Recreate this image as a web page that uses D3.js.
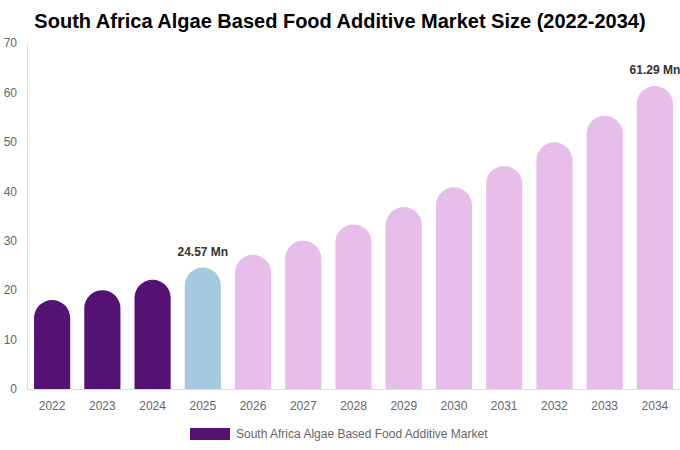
<!DOCTYPE html>
<html>
<head>
<meta charset="utf-8">
<script src="https://cdn.jsdelivr.net/npm/d3@7"></script>
<style>
  body { margin: 0; background: #fff; }
  svg { font-family: "Liberation Sans", Arial, sans-serif; }
</style>
</head>
<body>
<div id="chart"></div>
<script>
// --- Data ---
const years = ["2022", "2023", "2024", "2025", "2026", "2027", "2028",
               "2029", "2030", "2031", "2032", "2033", "2034"];
const marketSize = [18.0, 20.0, 22.1, 24.57, 27.15, 30.0, 33.3,
                    36.8, 40.8, 45.1, 49.9, 55.3, 61.29];
const yTicks = [0, 10, 20, 30, 40, 50, 60, 70];
const labelled = { "2025": "24.57 Mn", "2034": "61.29 Mn" };

const W = 680, H = 450;
const margin = { top: 43, right: 0, bottom: 61, left: 27 };
const innerW = W - margin.left - margin.right;
const innerH = H - margin.top - margin.bottom;

const svg = d3.select("#chart").append("svg")
  .attr("width", W)
  .attr("height", H);

// --- Title ---
svg.append("text")
  .attr("x", W / 2)
  .attr("y", 28)
  .attr("text-anchor", "middle")
  .style("font-size", "20px")
  .style("font-weight", "bold")
  .style("fill", "#000")
  .text("South Africa Algae Based Food Additive Market Size (2022-2034)");

const g = svg.append("g")
  .attr("transform", `translate(${margin.left},${margin.top})`);

// --- Scales ---
const x = d3.scaleBand()
  .domain(years)
  .range([0, innerW])
  .paddingInner(0.28)
  .paddingOuter(0.14);

const y = d3.scaleLinear()
  .domain([0, 70])
  .range([innerH, 0]);

const color = (yr) => +yr < 2025 ? "#551273" : (+yr === 2025 ? "#a4cadf" : "#e7bde9");

// --- Axes ---
const yAxis = g.append("g")
  .call(d3.axisLeft(y).tickValues(yTicks).tickSize(0).tickPadding(10));
yAxis.select(".domain").attr("stroke", "#ddd");
yAxis.selectAll("text")
  .style("font-size", "12px")
  .style("fill", "#666")
  .style("font-family", "Liberation Sans, Arial, sans-serif");

const xAxis = g.append("g")
  .attr("transform", `translate(0,${innerH})`)
  .call(d3.axisBottom(x).tickSize(0).tickPadding(12));
xAxis.select(".domain").attr("stroke", "#ddd");
xAxis.selectAll("text")
  .style("font-size", "12px")
  .style("fill", "#666")
  .style("font-family", "Liberation Sans, Arial, sans-serif");

// --- Bars (rounded tops) ---
const bw = x.bandwidth();
const r = bw / 2;
const barPath = (d, i) => {
  const x0 = x(years[i]);
  const top = y(d);
  const base = y(0);
  const rr = Math.min(r, base - top);
  return `M${x0},${base}V${top + rr}` +
    `A${r},${rr} 0 0 1 ${x0 + bw},${top + rr}` +
    `V${base}Z`;
};

g.selectAll(".bar")
  .data(marketSize)
  .enter()
  .append("path")
  .attr("class", "bar")
  .attr("d", barPath)
  .attr("fill", (d, i) => color(years[i]));

// --- Value labels ---
g.selectAll(".val")
  .data(years.filter(yr => labelled[yr]))
  .enter()
  .append("text")
  .attr("class", "val")
  .attr("x", yr => x(yr) + bw / 2)
  .attr("y", yr => y(marketSize[years.indexOf(yr)]) - 12)
  .attr("text-anchor", "middle")
  .style("font-size", "12px")
  .style("font-weight", "bold")
  .style("fill", "#333")
  .text(yr => labelled[yr]);

// --- Legend ---
const legend = svg.append("g")
  .attr("transform", "translate(190,428)");
legend.append("rect")
  .attr("width", 40)
  .attr("height", 12)
  .attr("fill", "#551273");
legend.append("text")
  .attr("x", 46)
  .attr("y", 10)
  .style("font-size", "12px")
  .style("fill", "#666")
  .text("South Africa Algae Based Food Additive Market");
</script>
</body>
</html>
